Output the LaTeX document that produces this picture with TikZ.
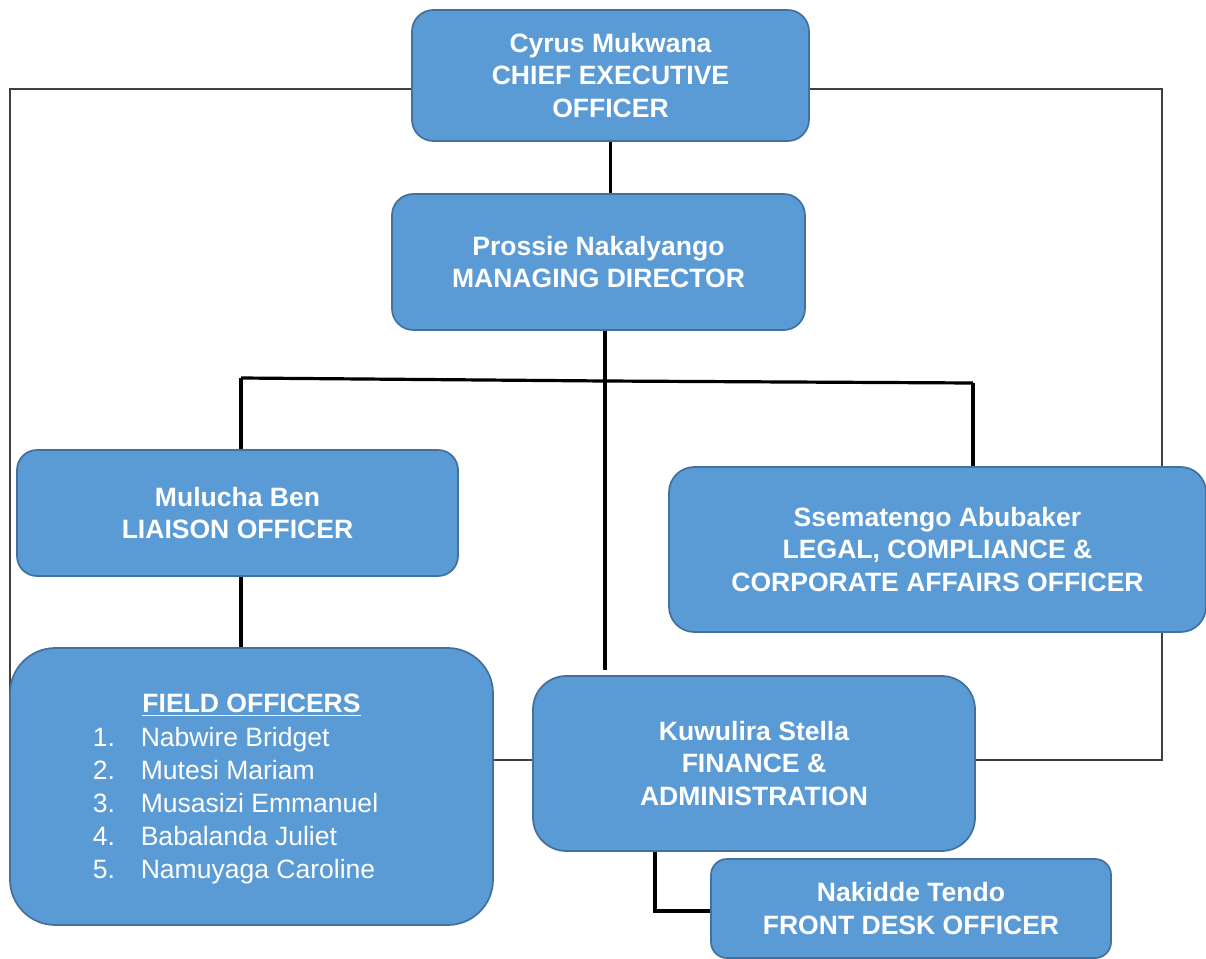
\documentclass[tikz,border=0pt]{standalone}
\usepackage{fontspec}
\setmainfont{Liberation Sans}
\usepackage{tikz}
\usetikzlibrary{positioning}

\definecolor{boxfill}{HTML}{5B9BD5}
\definecolor{boxline}{HTML}{41719C}
\definecolor{framegray}{HTML}{404040}

\begin{document}
\begin{tikzpicture}[
    x=0.75pt, y=-0.75pt,
    post/.style={draw=boxline, fill=boxfill, line width=1.3pt, text=white, align=center,
        font=\fontsize{19.9}{24.5}\selectfont\bfseries, inner sep=0pt},
    conn/.style={line width=2.4pt, black},
    frame/.style={line width=1.1pt, framegray}
]
\useasboundingbox (0,0) rectangle (1206,959);

% Outer frame behind the posts
\coordinate (frameNW) at (10,89);
\coordinate (frameSE) at (1162,760);
\draw[frame] (frameNW) rectangle (frameSE);

% Posts
\node[post, minimum width=297.75pt, minimum height=98.25pt, rounded corners=16pt] (ceo) at (610.5,75.5) {Cyrus Mukwana\\CHIEF EXECUTIVE\\OFFICER};
\node[post, minimum width=309.75pt, minimum height=102pt, rounded corners=16pt] (md) at (598.5,262) {Prossie Nakalyango\\MANAGING DIRECTOR};
\node[post, minimum width=330.75pt, minimum height=94.5pt, rounded corners=15pt] (liaison) at (237.5,513) {Mulucha Ben\\LIAISON OFFICER};
\node[post, minimum width=402.75pt, minimum height=123.75pt, rounded corners=19pt] (legal) at (937.5,549.5) {Ssematengo Abubaker\\LEGAL, COMPLIANCE \&\\CORPORATE AFFAIRS OFFICER};
\node[post, minimum width=362.25pt, minimum height=207.75pt, rounded corners=34pt,
      font=\fontsize{19.9}{24.75}\selectfont] (field) at (251.5,786.5)
    {\rule{0pt}{21pt}\textbf{\underline{FIELD OFFICERS}}\\[4.5pt]
     \hspace*{-24pt}\begin{tabular}{@{}l@{}l@{}}
       \makebox[36pt][l]{1.} & Nabwire Bridget\\
       \makebox[36pt][l]{2.} & Mutesi Mariam\\
       \makebox[36pt][l]{3.} & Musasizi Emmanuel\\
       \makebox[36pt][l]{4.} & Babalanda Juliet\\
       \makebox[36pt][l]{5.} & Namuyaga Caroline
     \end{tabular}};
\node[post, minimum width=331.5pt, minimum height=131.25pt, rounded corners=25pt] (finance) at (754,763.5) {Kuwulira Stella\\FINANCE \&\\ADMINISTRATION};
\node[post, minimum width=300pt, minimum height=74.25pt, rounded corners=12pt] (front) at (911,908.5) {Nakidde Tendo\\FRONT DESK OFFICER};

% Bus coordinates
\coordinate (busL) at (241,378);
\coordinate (busM) at (605,381);
\coordinate (busR) at (973,383);
\coordinate (finTop) at (605,670);
\coordinate (fdCorner) at (655,911);

% Connectors
\draw[conn] (ceo.south) -- (ceo.south |- md.north);
\draw[conn] (md.south -| busM) -- (busM);
\draw[conn] (busL) -- (busM) -- (busR);
\draw[conn] (busL) -- (liaison.north -| busL);
\draw[conn] (busR) -- (legal.north -| busR);
\draw[conn] (busM) -- (finTop);
\draw[conn] (liaison.south -| busL) -- (field.north -| busL);
\draw[conn] (finance.south -| fdCorner) -- (fdCorner) -- (front.west |- fdCorner);

\end{tikzpicture}
\end{document}
